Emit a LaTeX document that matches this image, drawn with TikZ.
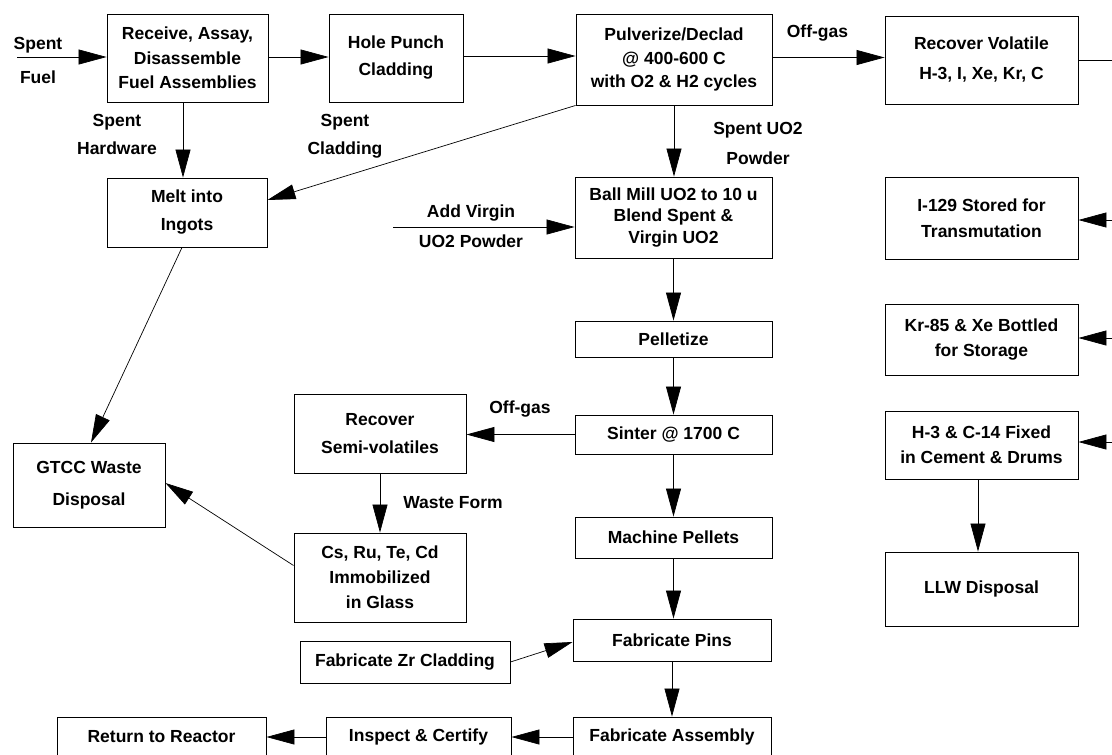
\documentclass[tikz,border=0pt]{standalone}
\usepackage{fontspec}
\setmainfont{Liberation Sans}
\usetikzlibrary{arrows.meta}
\newcommand{\fsz}[1]{\bfseries\fontsize{17.5}{#1}\selectfont}
\tikzset{
  box/.style={draw=black, line width=0.9pt, align=center, inner sep=0pt, font=\fsz{24}},
  lbl/.style={align=center, inner sep=0pt, font=\fsz{28}},
  conn/.style={draw=black, line width=0.7pt},
  arr/.style={conn, -{Triangle[length=28pt,width=15pt]}}
}
\begin{document}
\begin{tikzpicture}[x=1pt,y=-1pt]
\fill[white] (0,0) rectangle (1112,755);
\useasboundingbox (0,0) rectangle (1112,755);

% boxes
\node[box, minimum width=161pt, minimum height=88pt, font=\fsz{24.5}] (receive) at (187.5,58) {Receive, Assay,\\Disassemble\\Fuel Assemblies};
\node[box, minimum width=134pt, minimum height=88pt, font=\fsz{27}] (hole) at (396,58) {Hole Punch\\Cladding};
\node[box, minimum width=196pt, minimum height=91pt, font=\fsz{23.5}] (pulv) at (674,59.5) {Pulverize/Declad\\@ 400-600 C\\with O2 \& H2 cycles};
\node[box, minimum width=193pt, minimum height=88pt, font=\fsz{30}] (recvol) at (981.5,60) {Recover Volatile\\H-3, I, Xe, Kr, C};
\node[box, minimum width=160pt, minimum height=69pt, font=\fsz{28}] (melt) at (187,212.5) {Melt into\\Ingots};
\node[box, minimum width=197pt, minimum height=81pt, font=\fsz{21.5}] (ballmill) at (673.5,217.5) {Ball Mill UO2 to 10 u\\Blend Spent \&\\Virgin UO2};
\node[box, minimum width=193pt, minimum height=82pt, font=\fsz{26}] (i129) at (981.5,218) {I-129 Stored for\\Transmutation};
\node[box, minimum width=197pt, minimum height=36pt] (pellet) at (673.5,339) {Pelletize};
\node[box, minimum width=193pt, minimum height=71pt, font=\fsz{25}] (kr85) at (981.5,339.5) {Kr-85 \& Xe Bottled\\for Storage};
\node[box, minimum width=197pt, minimum height=39pt] (sinter) at (673.5,434.5) {Sinter @ 1700 C};
\node[box, minimum width=172pt, minimum height=79pt, font=\fsz{28}] (semivol) at (380,433.5) {Recover\\Semi-volatiles};
\node[box, minimum width=152pt, minimum height=84pt, font=\fsz{32}] (gtcc) at (89,485) {GTCC Waste\\Disposal};
\node[box, minimum width=193pt, minimum height=68pt, font=\fsz{25}] (h3) at (981.5,445) {H-3 \& C-14 Fixed\\in Cement \& Drums};
\node[box, minimum width=172pt, minimum height=89pt, font=\fsz{25}] (csru) at (380,577.5) {Cs, Ru, Te, Cd\\Immobilized\\in Glass};
\node[box, minimum width=197pt, minimum height=41pt] (machine) at (673.5,537.5) {Machine Pellets};
\node[box, minimum width=193pt, minimum height=74pt] (llw) at (981.5,589) {LLW Disposal};
\node[box, minimum width=198pt, minimum height=42pt] (pins) at (672,640) {Fabricate Pins};
\node[box, minimum width=210pt, minimum height=42pt] (zr) at (405,662) {Fabricate Zr Cladding};
\node[box, minimum width=198pt, minimum height=40pt] (assembly) at (672,737) {Fabricate Assembly};
\node[box, minimum width=185pt, minimum height=40pt] (inspect) at (418.5,737) {Inspect \& Certify};
\node[box, minimum width=209pt, minimum height=40pt] (return) at (161.5,737) {Return to Reactor};

% labels
\node[lbl, font=\fsz{34}] (lfuel) at (38,60) {Spent\\Fuel};
\node[lbl] (lhard) at (117,134) {Spent\\Hardware};
\node[lbl] (lclad) at (345,136) {Spent\\Cladding};
\node[lbl, font=\fsz{30}] (luo2) at (758,143) {Spent UO2\\Powder};
\node[lbl] (loff1) at (817.5,33) {Off-gas};
\node[lbl, font=\fsz{30}] (lvirgin) at (471,226) {Add Virgin\\UO2 Powder};
\node[lbl] (loff2) at (520,409) {Off-gas};
\node[lbl] (lwaste) at (453,503) {Waste Form};

% free ends
\coordinate (fuelin) at (17,57);
\coordinate (virgin) at (393,227);
\coordinate (bus) at (1112.6,60);

% connectors
\draw[arr] (fuelin) -- (fuelin -| receive.west);
\draw[arr] ([yshift=1pt]receive.east) -- ([yshift=1pt]hole.west);
\draw[arr] ([yshift=2pt]hole.east) -- ([yshift=2pt]hole.east -| pulv.west);
\draw[arr] ([yshift=2pt]pulv.east) -- ([yshift=2pt]pulv.east -| recvol.west);
\draw[conn] (recvol.east) -- (bus) -- (bus |- h3.east);
\draw[arr] (bus |- 0,220) -- (i129.east |- 0,220);
\draw[arr] (bus |- 0,338) -- (kr85.east |- 0,338);
\draw[arr] (bus |- 0,442) -- (h3.east |- 0,442);
\draw[arr] ([xshift=-4.5pt]receive.south) -- ([xshift=-4.5pt]receive.south |- melt.north);
\draw[arr] (pulv.south west) -- ([yshift=12.5pt]melt.east);
\draw[arr] (pulv.south) -- (pulv.south |- ballmill.north);
\draw[arr] (virgin) -- (virgin -| ballmill.west);
\draw[arr] (ballmill.south) -- (pellet.north);
\draw[arr] (pellet.south) -- (sinter.north);
\draw[arr] (sinter.south) -- (machine.north);
\draw[arr] (machine.south) -- (machine.south |- pins.north);
\draw[arr] (pins.south) -- (assembly.north);
\draw[arr] (sinter.west) -- (sinter.west -| semivol.east);
\draw[arr] (semivol.south) -- (csru.north);
\draw[arr] ([yshift=12pt]csru.west) -- ([yshift=2pt]gtcc.east);
\draw[arr] ([xshift=-5pt]melt.south) -- ([xshift=2pt]gtcc.north);
\draw[arr] ([xshift=-3.5pt]h3.south) -- ([xshift=-3.5pt]h3.south |- llw.north);
\draw[arr] (zr.east) -- ([yshift=-2pt]pins.west);
\draw[arr] (assembly.west) -- (inspect.east);
\draw[arr] (inspect.west) -- (return.east);
\end{tikzpicture}
\end{document}
